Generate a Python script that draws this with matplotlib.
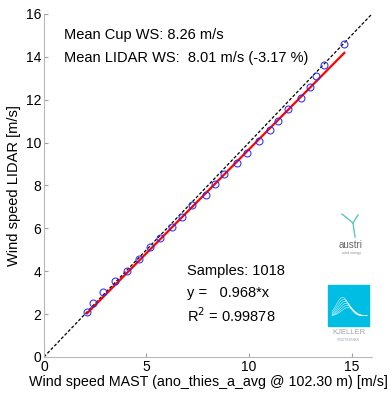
import numpy as np
import matplotlib
matplotlib.use("Agg")
import matplotlib.pyplot as plt
import matplotlib.patches as mpatches

plt.rcParams['font.family'] = ['Liberation Sans', 'DejaVu Sans']

# binned means
mast_ws = [2.11, 2.38, 2.86, 3.48, 4.03, 4.62, 5.17, 5.66, 6.23, 6.75, 7.20, 7.89, 8.34,
           8.78, 9.43, 9.92, 10.49, 11.02, 11.43, 11.89, 12.52, 12.98, 13.25, 13.66, 14.65]
lidar_ws = [2.11, 2.53, 3.02, 3.53, 4.00, 4.57, 5.12, 5.54, 6.05, 6.54, 7.09, 7.56, 8.07,
            8.54, 9.03, 9.53, 10.06, 10.59, 11.02, 11.55, 12.07, 12.60, 13.10, 13.62, 14.60]
slope = 0.968
fit_range = [2.1, 14.65]
x_ticks = [0, 5, 10, 15]
y_ticks = [0, 2, 4, 6, 8, 10, 12, 14, 16]

fig = plt.figure(figsize=(3.92, 3.96), dpi=100)
ax = fig.add_axes([0.112, 0.0985, 0.837, 0.8665])

ax.plot([0, 16], [0, 16], color='black', ls=(0, (2.5, 1.5)), lw=0.9)
fx = np.array(fit_range)
ax.plot(fx, slope * fx, color='red', lw=1.6)
ax.plot(mast_ws, lidar_ws, 'o', mfc='none', mec='#2a2aff', mew=0.75, ms=5)

ax.set_xlim(0, 16)
ax.set_ylim(0, 16)
ax.set_xticks(x_ticks)
ax.set_yticks(y_ticks)
for s in ['top', 'right']:
    ax.spines[s].set_visible(False)
for s in ['left', 'bottom']:
    ax.spines[s].set_color('#b8b8b8')
    ax.spines[s].set_linewidth(0.8)
ax.tick_params(direction='in', length=3, color='#a0a0a0', labelsize=10, pad=2)

ax.set_xlabel('Wind speed MAST (ano_thies_a_avg @ 102.30 m) [m/s]', fontsize=10.3, labelpad=1)
ax.set_ylabel('Wind speed LIDAR [m/s]', fontsize=10.5, labelpad=3)

ax.text(1.0, 15.0, 'Mean Cup WS: 8.26 m/s', fontsize=10.5, va='center')
ax.text(1.0, 13.95, 'Mean LIDAR WS:  8.01 m/s (-3.17 %)', fontsize=10.5, va='center')
ax.text(7.0, 4.0, 'Samples: 1018', fontsize=10.5, va='center')
ax.text(7.0, 3.0, 'y =   0.968*x', fontsize=10.5, va='center')
ax.text(7.0, 1.95, r'R$^2$ = 0.99878', fontsize=10.5, va='center')

# austri logo (approximation)
cx, cy = 353 / 392, 1 - 223 / 396
for dx, dy in [(-11, -9), (5, -8), (2, 14)]:
    fig.add_artist(plt.Line2D([cx, cx + dx / 392], [cy, cy - dy / 396],
                              color='#5cc6c0', lw=1.0, transform=fig.transFigure))
fig.text(351 / 392, 1 - 245 / 396, 'austri', fontsize=7, color='#666666',
         ha='center', va='center')
fig.text(351 / 392, 1 - 253 / 396, 'wind energy', fontsize=2.5, color='#888888',
         ha='center', va='center')

# Kjeller logo (approximation)
lx, ly, lw_, lh = 328 / 392, 1 - 326 / 396, 41 / 392, 41 / 396
fig.add_artist(mpatches.Rectangle((lx, ly), lw_, lh, color='#00bde3',
                                  transform=fig.transFigure))
t = np.linspace(0, 1, 50)
for k in range(6):
    yy = ly + lh * (0.25 + (0.45 - 0.05 * k) * np.exp(-((t - 0.3 - 0.03 * k) / 0.25) ** 2))
    fig.add_artist(plt.Line2D(lx + lw_ * (0.1 + 0.85 * t), yy, color='white',
                              lw=0.4, alpha=0.8, transform=fig.transFigure))
fig.text(lx + lw_ / 2, 1 - 333 / 396, 'KJELLER', fontsize=5.5, color='#9aa8b0',
         ha='center', va='center')
fig.text(lx + lw_ / 2, 1 - 340 / 396, 'VINDTEKNIKK', fontsize=2.5, color='#9aa8b0',
         ha='center', va='center')

fig.savefig('out.png', dpi=100)
